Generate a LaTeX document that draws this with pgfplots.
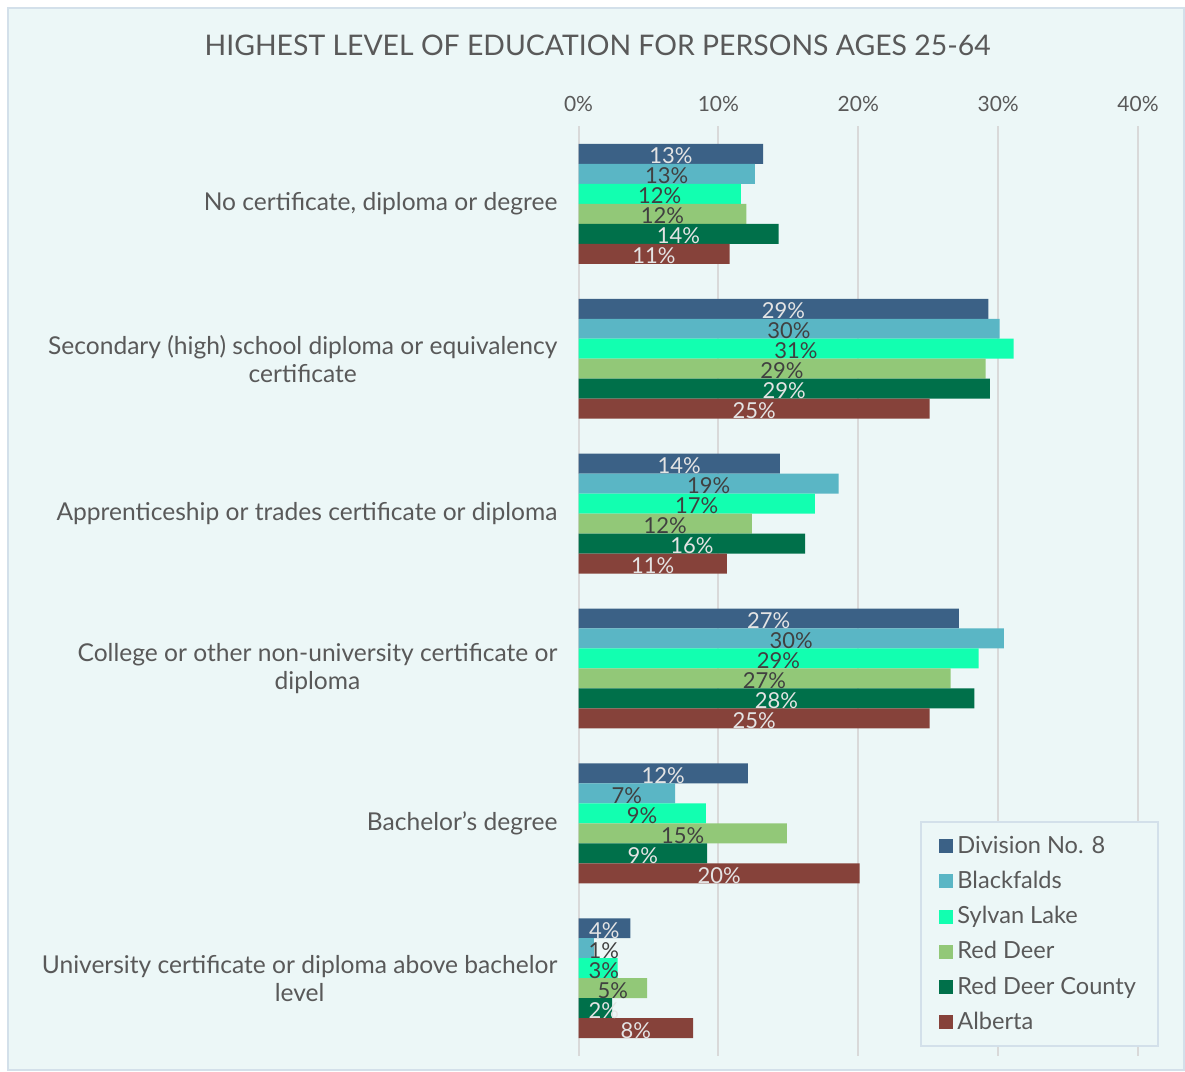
\documentclass[border=0pt]{standalone}
\usepackage{pgfplots}
\pgfplotsset{compat=1.18}
\usepackage{fontspec}
\setmainfont{Lato}
\pgfkeys{/pgf/number format/assume math mode=true}

\definecolor{bg}{HTML}{ECF7F7}
\definecolor{framecol}{HTML}{D3E0EA}
\definecolor{textgray}{HTML}{595959}
\definecolor{gridgray}{HTML}{D9D9D9}
\definecolor{cDiv}{HTML}{3B6186}
\definecolor{cBlack}{HTML}{5AB6C5}
\definecolor{cSylvan}{HTML}{12FFB0}
\definecolor{cRD}{HTML}{92C878}
\definecolor{cRDC}{HTML}{00704A}
\definecolor{cAlb}{HTML}{86423A}
\definecolor{lbllight}{HTML}{E4E4E4}
\definecolor{lbldark}{HTML}{404040}

\begin{document}
\begin{tikzpicture}
% page and chart background
\fill[white] (-289.5pt,528.25pt) rectangle (303pt,-7.25pt);
\filldraw[fill=bg, draw=framecol, line width=1pt] (-285.5pt,524.25pt) rectangle (303pt,-7.25pt);
\node[text=textgray, font=\fontsize{14.2}{17}\selectfont] at (9.5pt,505.75pt)
  {HIGHEST LEVEL OF EDUCATION FOR PERSONS AGES 25-64};

\begin{axis}[
    at={(0pt,0pt)}, anchor=south west,
    scale only axis,
    width=280pt, height=465pt,
    xbar=0pt,
    bar width=0.129,
    xmin=0, xmax=40,
    ymin=-0.5, ymax=5.5,
    y dir=reverse,
    axis line style={draw=none},
    major tick length=0pt,
    xtick={0,10,20,30,40},
    xticklabel pos=upper,
    xticklabel={\pgfmathprintnumber{\tick}\%},
    xticklabel style={font=\fontsize{10.5}{12}\selectfont, text=textgray, yshift=4pt},
    xmajorgrids,
    grid style={draw=gridgray, line width=1pt},
    ytick={0,1,2,3,4,5},
    yticklabels={
      {No certificate, diploma or degree},
      {Secondary (high) school diploma or equivalency\\certificate},
      {Apprenticeship or trades certificate or diploma},
      {College or other non-university certificate or\\diploma},
      {Bachelor's degree},
      {University certificate or diploma above bachelor\\level}},
    yticklabel style={font=\fontsize{12.3}{14}\selectfont, text=textgray, align=center, xshift=-7pt},
    point meta=x,
    nodes near coords={\pgfmathprintnumber[fixed,precision=0]{\pgfplotspointmeta}\%},
    visualization depends on={x \as \rawx},
    every node near coord/.append style={anchor=center, font=\fontsize{11}{12}\selectfont,
      yshift=-1pt, shift={(axis direction cs:{max(-\rawx/2,1.8-\rawx)},0)}},
    legend style={at={(1.0375,0.009)}, anchor=south east, draw=framecol, line width=1pt,
      fill=bg, font=\fontsize{11.8}{13}\selectfont, text=textgray, row sep=3.4pt,
      inner xsep=9pt, inner ysep=5pt},
    legend cell align=left,
    legend image code/.code={\fill[#1, draw=none] (0pt,-3.5pt) rectangle (7pt,3.5pt);},
]
\addplot[fill=cDiv, draw=none, every node near coord/.append style={text=lbllight}] coordinates {
  (13.2,0) (29.3,1) (14.4,2) (27.2,3) (12.1,4) (3.7,5)};
\addplot[fill=cBlack, draw=none, every node near coord/.append style={text=lbldark}] coordinates {
  (12.6,0) (30.1,1) (18.6,2) (30.4,3) (6.9,4) (1.1,5)};
\addplot[fill=cSylvan, draw=none, every node near coord/.append style={text=lbldark}] coordinates {
  (11.6,0) (31.1,1) (16.9,2) (28.6,3) (9.1,4) (2.8,5)};
\addplot[fill=cRD, draw=none, every node near coord/.append style={text=lbldark}] coordinates {
  (12.0,0) (29.1,1) (12.4,2) (26.6,3) (14.9,4) (4.9,5)};
\addplot[fill=cRDC, draw=none, every node near coord/.append style={text=lbllight}] coordinates {
  (14.3,0) (29.4,1) (16.2,2) (28.3,3) (9.2,4) (2.4,5)};
\addplot[fill=cAlb, draw=none, every node near coord/.append style={text=lbllight}] coordinates {
  (10.8,0) (25.1,1) (10.6,2) (25.1,3) (20.1,4) (8.2,5)};
\legend{Division No. 8, Blackfalds, Sylvan Lake, Red Deer, Red Deer County, Alberta}
\end{axis}
\end{tikzpicture}
\end{document}
